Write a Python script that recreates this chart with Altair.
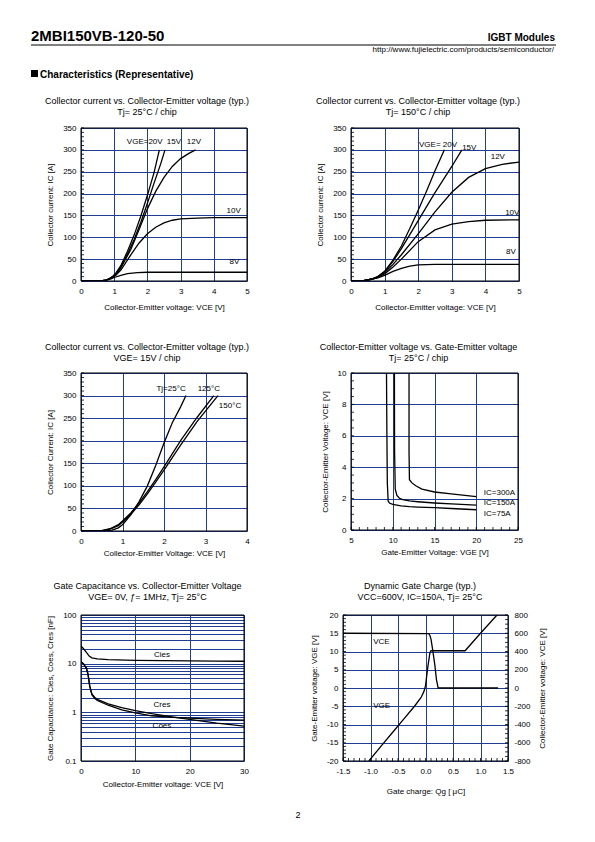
import altair as alt
import pandas as pd

FONT = "Liberation Sans"
GRID = "#1f3d92"

# ---------------- Chart 1 : Ic vs Vce, Tj=25C ----------------
c1_x20 = [0, 0.3, 0.6, 0.75, 0.85, 0.95, 1.05, 1.2, 1.4, 1.6, 1.8, 2.0, 2.2, 2.36]
c1_y20 = [0, 0, 0.5, 2, 5, 10, 18, 35, 68, 105, 148, 196, 248, 300]
c1_x15 = [0, 0.3, 0.6, 0.75, 0.85, 0.95, 1.05, 1.2, 1.4, 1.6, 1.8, 2.0, 2.2, 2.4, 2.53]
c1_y15 = [0, 0, 0.5, 2, 5, 10, 17, 33, 62, 95, 134, 178, 224, 268, 300]
c1_x12 = [0, 0.3, 0.6, 0.75, 0.85, 0.95, 1.05, 1.2, 1.5, 1.75, 2.0, 2.25, 2.5, 2.75, 3.0, 3.25, 3.45]
c1_y12 = [0, 0, 0.5, 2, 5, 9, 15, 30, 72, 118, 165, 205, 237, 262, 280, 292, 300]
c1_x10 = [0, 0.3, 0.6, 0.75, 0.85, 0.95, 1.05, 1.2, 1.5, 1.75, 2.0, 2.25, 2.5, 2.75, 3.0, 3.5, 4.0, 5.0]
c1_y10 = [0, 0, 0.5, 2, 4, 8, 13, 25, 60, 87, 108, 123, 133, 139, 142, 144, 145, 145]
c1_x8 = [0, 0.3, 0.6, 0.75, 0.9, 1.0, 1.2, 1.4, 1.7, 2.0, 3.0, 5.0]
c1_y8 = [0, 0, 0.5, 2, 5, 8, 13, 17, 19, 20, 20, 20]
c1_lab_text = ["VGE=20V", "15V", "12V", "10V", "8V"]
c1_lab_x = [1.92, 2.8, 3.4, 4.6, 4.62]
c1_lab_y = [318, 318, 318, 160, 43]

# ---------------- Chart 2 : Ic vs Vce, Tj=150C ----------------
c2_x20 = [0, 0.2, 0.4, 0.6, 0.8, 1.0, 1.25, 1.5, 1.75, 2.0, 2.25, 2.5, 2.78]
c2_y20 = [0, 0.5, 1.5, 4, 10, 22, 48, 80, 120, 162, 206, 252, 300]
c2_x15 = [0, 0.2, 0.4, 0.6, 0.8, 1.0, 1.25, 1.5, 1.75, 2.0, 2.5, 3.0, 3.3]
c2_y15 = [0, 0.5, 1.5, 4, 10, 21, 45, 74, 106, 138, 202, 262, 300]
c2_x12 = [0, 0.2, 0.4, 0.6, 0.8, 1.0, 1.25, 1.5, 2.0, 2.5, 3.0, 3.5, 4.0, 4.5, 5.0]
c2_y12 = [0, 0.5, 1.5, 4, 9, 19, 38, 60, 108, 158, 203, 237, 257, 267, 272]
c2_x10 = [0, 0.2, 0.4, 0.6, 0.8, 1.0, 1.25, 1.5, 2.0, 2.5, 3.0, 3.5, 4.0, 5.0]
c2_y10 = [0, 0.5, 1.5, 4, 8, 16, 32, 50, 90, 117, 130, 136, 139, 140]
c2_x8 = [0, 0.2, 0.4, 0.6, 0.8, 1.0, 1.25, 1.5, 1.75, 2.0, 2.5, 3.0, 5.0]
c2_y8 = [0, 0.5, 1.5, 3.5, 7, 13, 22, 29, 34, 37, 38, 38, 38]
c2_lab_text = ["VGE= 20V", "15V", "12V", "10V", "8V"]
c2_lab_x = [2.59, 3.52, 4.37, 4.8, 4.76]
c2_lab_y = [311, 304, 284, 156, 66]

# ---------------- Chart 3 : Ic vs Vce, VGE=15V ----------------
c3_x25 = [0, 0.4, 0.6, 0.75, 0.9, 1.0, 1.2, 1.4, 1.6, 1.8, 2.0, 2.2, 2.4, 2.53]
c3_y25 = [0, 0, 0.5, 2, 7, 14, 36, 65, 100, 145, 195, 240, 275, 300]
c3_x125 = [0, 0.3, 0.5, 0.7, 0.9, 1.0, 1.2, 1.4, 1.6, 1.8, 2.0, 2.4, 2.8, 3.2]
c3_y125 = [0, 0, 1, 5, 14, 22, 40, 62, 87, 114, 142, 200, 252, 300]
c3_x150 = [0, 0.3, 0.5, 0.7, 0.9, 1.0, 1.2, 1.4, 1.6, 1.8, 2.0, 2.4, 2.8, 3.3]
c3_y150 = [0, 0, 1, 4, 12, 20, 37, 58, 82, 108, 135, 190, 243, 300]
c3_lab_text = ["Tj=25°C", "125°C", "150°C"]
c3_lab_x = [2.17, 3.08, 3.59]
c3_lab_y = [315, 315, 277]

# ---------------- Chart 4 : Vce vs Vge ----------------
c4_x75 = [9.25, 9.3, 9.35, 9.45, 9.6, 10.0, 11, 12, 13, 15, 17, 20]
c4_y75 = [10, 6, 3, 1.85, 1.72, 1.63, 1.54, 1.49, 1.46, 1.42, 1.37, 1.29]
c4_x150 = [10.2, 10.22, 10.3, 10.5, 10.8, 11.2, 12, 13, 15, 17, 20]
c4_y150 = [10, 5, 2.6, 2.2, 2.02, 1.93, 1.85, 1.8, 1.72, 1.66, 1.58]
c4_x300 = [11.95, 11.95, 12.0, 12.3, 12.8, 13.5, 15, 17, 20]
c4_y300 = [10, 5, 3.2, 3.0, 2.8, 2.6, 2.42, 2.3, 2.13]
c4_lab_text = ["IC=300A", "IC=150A", "IC=75A"]
c4_lab_x = [20.9, 20.9, 20.9]
c4_lab_y = [2.36, 1.72, 1.02]

# ---------------- Chart 5 : capacitance ----------------
c5_xies = [0, 0.5, 1, 1.5, 2, 3, 5, 10, 15, 20, 25, 30]
c5_yies = [23, 20, 17, 14.3, 13.2, 12.5, 12.1, 11.7, 11.5, 11.4, 11.3, 11.2]
c5_xoes = [0, 0.5, 1, 1.3, 1.6, 2, 2.5, 3, 5, 7.5, 10, 13, 17, 20, 25, 30]
c5_yoes = [11, 9.8, 8, 6, 3.5, 2.4, 2.05, 1.85, 1.5, 1.25, 1.08, 0.94, 0.8, 0.72, 0.6, 0.52]
c5_xres = [0, 0.5, 1, 1.3, 1.6, 2, 2.5, 3, 5, 7.5, 10, 13, 17, 20, 25, 30]
c5_yres = [11, 9.8, 8, 6, 3.5, 2.3, 1.95, 1.75, 1.4, 1.12, 0.97, 0.85, 0.79, 0.76, 0.72, 0.69]
c5_lab_text = ["Cies", "Cres", "Coes"]
c5_lab_x = [14.9, 14.9, 14.9]
c5_lab_y = [15.3, 1.39, 0.52]

# ---------------- Chart 6 : gate charge ----------------
c6_q_vge = [-1.03, -0.8, -0.6, -0.4, -0.2, -0.08, -0.03, 0.0, 0.04, 0.08, 0.1, 0.72, 1.0, 1.3]
c6_vge = [-20, -15.8, -12.2, -8.6, -5.0, -2.6, -1.0, 0.6, 5.5, 9.6, 10.2, 10.2, 15, 20]
c6_q_vce = [-1.5, 0.06, 0.08, 0.1, 0.13, 0.17, 0.2, 0.23, 1.32]
c6_vce = [600, 595, 575, 535, 420, 250, 90, 0, 0]
c6_lab_text = ["VCE", "VGE"]
c6_lab_x = [-0.95, -0.95]
c6_lab_y = [12.6, -5.0]

# minor tick values
ic_minor = list(range(0, 351, 10))
vce10_minor = [i / 2 for i in range(0, 21)]
vge_minor = list(range(5, 26))
q_minor = [round(-1.5 + i * 0.1, 2) for i in range(31)]
vge6_minor = list(range(-20, 21))
vce6_minor = list(range(-800, 801, 50))

empty = pd.DataFrame({"a": [0]})
HYPHEN = "replace(datum.label, '\u2212', '-')"


def curves(series):
    rows = []
    for name, xs, ys in series:
        for i, (x, y) in enumerate(zip(xs, ys)):
            rows.append({"s": name, "x": x, "y": y, "i": i})
    return pd.DataFrame(rows)


def labels(texts, xs, ys):
    return pd.DataFrame({"t": texts, "x": xs, "y": ys})


def frame(w, h):
    return alt.Chart(empty).mark_rect(fill="transparent", stroke="black", strokeWidth=1).encode(
        x=alt.value(0), x2=alt.value(w), y=alt.value(0), y2=alt.value(h))


def spacer(x1, x2, y1, y2):
    return alt.Chart(empty).mark_rect(fill="transparent", strokeWidth=0).encode(
        x=alt.value(x1), x2=alt.value(x2), y=alt.value(y1), y2=alt.value(y2))


def vtext(txt, x, y, size=9, weight="normal", align="center", baseline="middle"):
    return alt.Chart(empty).mark_text(fontSize=size, fontWeight=weight, align=align, baseline=baseline,
                                      color="black").encode(x=alt.value(x), y=alt.value(y), text=alt.value(txt))


def ctitle(lines, cx, y1):
    return [vtext(lines[0], cx, y1), vtext(lines[1], cx, y1 + 11)]


def lines_layer(df, xspec, yspec):
    return alt.Chart(df).mark_line(color="black", strokeWidth=1.3, clip=True).encode(
        x=xspec(), y=yspec(), detail="s:N", order="i:Q")


def text_layer(lab, xspec, yspec, align="center"):
    return alt.Chart(lab).mark_text(fontSize=8, align=align, baseline="middle", color="black").encode(
        x=xspec(), y=yspec(), text="t:N")


def yminor(vals, yspec, x1=0, x2=3):
    return alt.Chart(pd.DataFrame({"y": vals})).mark_rule(color="black", strokeWidth=0.8).encode(
        y=yspec(), x=alt.value(x1), x2=alt.value(x2))


def xminor(vals, xspec, h):
    return alt.Chart(pd.DataFrame({"x": vals})).mark_rule(color="black", strokeWidth=0.8).encode(
        x=xspec(), y=alt.value(h - 3), y2=alt.value(h))


# ---- axes
def ax_ic(title):
    return lambda: alt.Y("y:Q", scale=alt.Scale(domain=[0, 350], nice=False),
                         axis=alt.Axis(values=list(range(0, 351, 50)), title=title, grid=True))


def ax_x(domain, values, title, tpad, fmt=None):
    def f():
        kw = dict(values=values, title=title, grid=True, titlePadding=tpad, labelExpr=HYPHEN)
        if fmt:
            kw["format"] = fmt
        return alt.X("x:Q", scale=alt.Scale(domain=domain, nice=False), axis=alt.Axis(**kw))
    return f


TITLE_A = "Collector current vs. Collector-Emitter voltage (typ.)"

# ---- chart 1 (origin page 80,128) with page header
x1s = ax_x([0, 5], [0, 1, 2, 3, 4, 5], "Collector-Emitter voltage: VCE [V]", 8)
y1s = ax_ic("Collector current: IC [A]")
df1 = curves([("20", c1_x20, c1_y20), ("15", c1_x15, c1_y15), ("12", c1_x12, c1_y12),
              ("10", c1_x10, c1_y10), ("8", c1_x8, c1_y8)])
header = [
    vtext("2MBI150VB-120-50", -50, -87, size=15, weight="bold", align="left", baseline="alphabetic"),
    alt.Chart(empty).mark_rule(color="black", strokeWidth=1).encode(
        x=alt.value(-50), x2=alt.value(475), y=alt.value(-83)),
    vtext("IGBT Modules", 474, -87, size=10, weight="bold", align="right", baseline="alphabetic"),
    vtext("http://www.fujielectric.com/products/semiconductor/", 473, -76, size=8, align="right",
          baseline="alphabetic"),
    alt.Chart(empty).mark_rect(color="black").encode(
        x=alt.value(-50), x2=alt.value(-43), y=alt.value(-58), y2=alt.value(-51)),
    vtext("Characteristics (Representative)", -41, -50, size=10, weight="bold", align="left",
          baseline="alphabetic"),
]
ch1 = alt.layer(
    spacer(-50, 166, -100, 200),
    lines_layer(df1, x1s, y1s),
    text_layer(labels(c1_lab_text, c1_lab_x, c1_lab_y), x1s, y1s),
    yminor(ic_minor, y1s),
    frame(166, 153),
    *ctitle([TITLE_A, "Tj= 25°C / chip"], 66, -27),
    *header,
).properties(width=166, height=153)

# ---- chart 2 (origin 350,128)
x2s = ax_x([0, 5], [0, 1, 2, 3, 4, 5], "Collector-Emitter voltage: VCE [V]", 8)
y2s = ax_ic("Collector current: IC [A]")
df2 = curves([("20", c2_x20, c2_y20), ("15", c2_x15, c2_y15), ("12", c2_x12, c2_y12),
              ("10", c2_x10, c2_y10), ("8", c2_x8, c2_y8)])
ch2 = alt.layer(
    spacer(0, 168, -100, 200),
    lines_layer(df2, x2s, y2s),
    text_layer(labels(c2_lab_text, c2_lab_x, c2_lab_y), x2s, y2s),
    yminor(ic_minor, y2s),
    frame(168, 153),
    *ctitle([TITLE_A, "Tj= 150°C / chip"], 67, -27),
).properties(width=168, height=153)

# ---- chart 3 (origin 80,373)
x3s = ax_x([0, 4], [0, 1, 2, 3, 4], "Collector-Emitter Voltage: VCE [V]", 4)
y3s = ax_ic("Collector Current: IC [A]")
df3 = curves([("25", c3_x25, c3_y25), ("125", c3_x125, c3_y125), ("150", c3_x150, c3_y150)])
ch3 = alt.layer(
    spacer(0, 166, -43, 197),
    lines_layer(df3, x3s, y3s),
    text_layer(labels(c3_lab_text, c3_lab_x, c3_lab_y), x3s, y3s),
    yminor(ic_minor, y3s),
    frame(166, 158),
    *ctitle([TITLE_A, "VGE= 15V / chip"], 66, -26),
).properties(width=166, height=158)

# ---- chart 4 (origin 350,373)
x4s = ax_x([5, 25], [5, 10, 15, 20, 25], "Gate-Emitter Voltage: VGE [V]", 4)


def y4s():
    return alt.Y("y:Q", scale=alt.Scale(domain=[0, 10], nice=False),
                 axis=alt.Axis(values=[0, 2, 4, 6, 8, 10], title="Collector-Emitter Voltage: VCE [V]", grid=True))


df4 = curves([("75", c4_x75, c4_y75), ("150", c4_x150, c4_y150), ("300", c4_x300, c4_y300)])
ch4 = alt.layer(
    spacer(0, 167, -43, 197),
    lines_layer(df4, x4s, y4s),
    text_layer(labels(c4_lab_text, c4_lab_x, c4_lab_y), x4s, y4s, align="left"),
    yminor(vce10_minor, y4s),
    xminor(vge_minor, x4s, 157),
    frame(167, 157),
    *ctitle(["Collector-Emitter voltage  vs. Gate-Emitter voltage", "Tj= 25°C / chip"], 67.5, -26),
).properties(width=167, height=157)

# ---- chart 5 (origin 80,615)
log_vals = []
for d in [0.1, 1, 10]:
    for k in range(1, 10):
        log_vals.append(round(d * k, 6))
log_vals.append(100)

x5s = ax_x([0, 30], [0, 10, 20, 30], "Collector-Emitter voltage: VCE [V]", 5)


def y5s():
    return alt.Y("y:Q", scale=alt.Scale(type="log", domain=[0.1, 100], nice=False),
                 axis=alt.Axis(values=log_vals, format="~g", grid=True,
                               labelExpr="(datum.value==0.1||datum.value==1||datum.value==10||datum.value==100) ? datum.label : ''",
                               title="Gate Capacitance: Cies, Coes, Cres [nF]"))


df5 = curves([("ies", c5_xies, c5_yies), ("oes", c5_xoes, c5_yoes), ("res", c5_xres, c5_yres)])
ch5 = alt.layer(
    spacer(0, 163, -43, 215),
    lines_layer(df5, x5s, y5s),
    text_layer(labels(c5_lab_text, c5_lab_x, c5_lab_y), x5s, y5s),
    frame(163, 146),
    *ctitle(["Gate Capacitance vs. Collector-Emitter Voltage", "VGE= 0V, ƒ= 1MHz, Tj= 25°C"], 66.5, -29),
    vtext("2", 217, 200, size=9),
).properties(width=163, height=146)

# ---- chart 6 (origin 342,615)
x6s = ax_x([-1.5, 1.5], [-1.5, -1.0, -0.5, 0, 0.5, 1.0, 1.5], "Gate charge: Qg [ μC]", 12, fmt=".1f")


def y6s():
    return alt.Y("y:Q", scale=alt.Scale(domain=[-20, 20], nice=False),
                 axis=alt.Axis(values=list(range(-20, 21, 5)), grid=True, labelExpr=HYPHEN,
                               title="Gate-Emitter voltage: VGE [V]"))


def y6r():
    return alt.Y("y:Q", scale=alt.Scale(domain=[-800, 800], nice=False),
                 axis=alt.Axis(values=list(range(-800, 801, 200)), grid=False, orient="right", labelExpr=HYPHEN,
                               title="Collector-Emitter voltage: VCE [V]", titleAngle=270, titleBaseline="top",
                               labelPadding=6))


df6a = curves([("vge", c6_q_vge, c6_vge)])
df6b = curves([("vce", c6_q_vce, c6_vce)])
left6 = alt.layer(
    spacer(0, 165, -43, 215),
    lines_layer(df6a, x6s, y6s),
    text_layer(labels(c6_lab_text, c6_lab_x, c6_lab_y), x6s, y6s, align="left"),
    yminor(vge6_minor, y6s),
    xminor(q_minor, x6s, 146),
)
right6 = alt.layer(
    lines_layer(df6b, x6s, y6r),
    yminor(vce6_minor, y6r, 162, 165),
)
ch6 = alt.layer(
    left6, right6, frame(165, 146),
    *ctitle(["Dynamic Gate Charge (typ.)", "VCC=600V, IC=150A, Tj= 25°C"], 77, -29),
).resolve_scale(y="independent").properties(width=165, height=146)

row1 = alt.hconcat(ch1, ch2, spacing=104, bounds="flush")
row2 = alt.hconcat(ch3, ch4, spacing=104, bounds="flush")
row3 = alt.hconcat(ch5, ch6, spacing=99, bounds="flush")

chart = alt.vconcat(row1, row2, row3, spacing=0).properties(
    padding={"left": 22, "top": 19, "right": 10, "bottom": 5}
).configure_view(stroke="transparent").configure_axis(
    labelFont=FONT, titleFont=FONT, labelFontSize=8, titleFontSize=8, titleFontWeight="normal",
    labelColor="black", titleColor="black", gridColor=GRID, gridOpacity=1, gridWidth=1,
    domain=False, ticks=False, labelPadding=5, labelFlush=False,
).configure_axisY(titlePadding=8).configure_axisX(labelPadding=6).configure_text(font=FONT)

chart.save("out.html", embed_options={"renderer": "svg", "actions": False})
